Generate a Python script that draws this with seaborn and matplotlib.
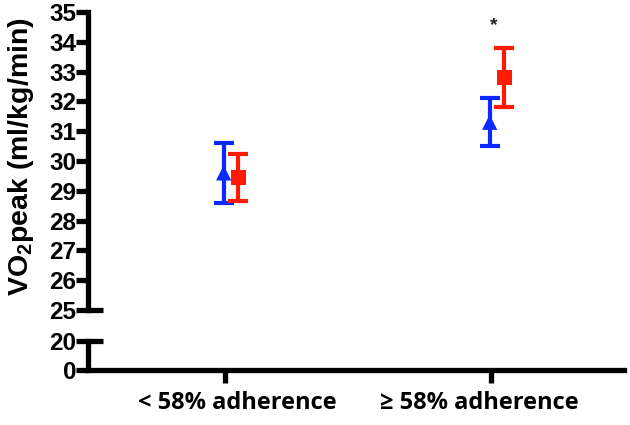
import numpy as np
import pandas as pd
import matplotlib
matplotlib.use("Agg")
import matplotlib.pyplot as plt
import matplotlib.transforms as mtransforms
import seaborn as sns

# ---- data ----
groups = ["< 58% adherence", "\u2265 58% adherence"]
series = ["A", "B"]
means_a = [29.6, 31.3]
low_a = [28.6, 30.5]
high_a = [30.6, 32.1]
means_b = [29.45, 32.8]
low_b = [28.65, 31.8]
high_b = [30.25, 33.8]
top_ticks = [25, 26, 27, 28, 29, 30, 31, 32, 33, 34, 35]
bottom_ticks = [0, 20]
ylabel = "VO$_2$peak (ml/kg/min)"
star_text = "*"

colors = {"A": "#0A28FF", "B": "#FF1A00"}
markers = {"A": "^", "B": "s"}
offsets = {"A": -0.005, "B": 0.05}

rows = []
for s, m, lo, hi in [("A", means_a, low_a, high_a), ("B", means_b, low_b, high_b)]:
    for i, g in enumerate(groups):
        rows.append(dict(group=g, gi=i, series=s, mean=m[i], low=lo[i], high=hi[i],
                         x=i + offsets[s]))
df = pd.DataFrame(rows)

sns.set_theme(style="ticks")
plt.rcParams["font.family"] = ["Liberation Sans", "DejaVu Sans"]
plt.rcParams["text.color"] = "black"
plt.rcParams["xtick.color"] = "black"
plt.rcParams["ytick.color"] = "black"
plt.rcParams["axes.edgecolor"] = "black"
plt.rcParams["mathtext.default"] = "regular"

fig = plt.figure(figsize=(6.3, 4.25), dpi=100)
W, H = 630, 425
left, right = 88 / W, 624 / W
ax_top = fig.add_axes([left, 1 - 310 / H, right - left, (310 - 12) / H])
ax_bot = fig.add_axes([left, 1 - 370 / H, right - left, (370 - 341) / H])

lw_spine = 3.8
for ax in (ax_top, ax_bot):
    for sp in ("top", "right"):
        ax.spines[sp].set_visible(False)
    ax.spines["left"].set_linewidth(lw_spine)
    ax.spines["bottom"].set_linewidth(lw_spine)
    ax.set_xlim(-0.515, 1.5)
    ax.tick_params(axis="y", length=8.5, width=lw_spine, labelsize=17.5, pad=0,
                   colors="black")
    ax.set_facecolor("white")

ax_top.spines["bottom"].set_visible(False)
ax_top.set_ylim(25, 35)
ax_top.set_yticks(top_ticks)
ax_top.set_yticklabels([str(t) for t in top_ticks], fontweight="bold", fontsize=17.5)
ax_top.set_xticks([])

ax_bot.set_ylim(0, 20)
ax_bot.set_yticks(bottom_ticks)
ax_bot.set_yticklabels([str(t) for t in bottom_ticks], fontweight="bold", fontsize=17.5)
ax_bot.set_xticks([0, 1])
ax_bot.set_xticklabels(groups, fontsize=17, fontweight="bold",
                       family=["Open Sans", "DejaVu Sans"])
ax_bot.tick_params(axis="x", length=9, width=lw_spine, pad=6, colors="black")
for lab, dx in zip(ax_bot.get_xticklabels(), [12, -12]):
    lab.set_transform(lab.get_transform() +
                      mtransforms.ScaledTranslation(dx / 100, 0, fig.dpi_scale_trans))

# error bars
for s in series:
    d = df[df.series == s]
    ax_top.errorbar(d.x, d["mean"], yerr=[d["mean"] - d.low, d.high - d["mean"]],
                    fmt="none", ecolor=colors[s], elinewidth=3, capsize=7,
                    capthick=3, zorder=2)

sns.scatterplot(data=df, x="x", y="mean", hue="series", style="series",
                palette=colors, markers=markers, s=120, edgecolor="none",
                ax=ax_top, legend=False, zorder=3)
ax_top.set_xlabel("")
ax_top.set_ylabel("")
ax_bot.set_xlabel("")
ax_bot.set_ylabel("")

# axis break caps
tr_top = mtransforms.blended_transform_factory(ax_top.transAxes, ax_top.transData)
ax_top.plot([0, 0.028], [25, 25], color="black", lw=lw_spine, transform=tr_top,
            clip_on=False, solid_capstyle="butt")
tr_bot = mtransforms.blended_transform_factory(ax_bot.transAxes, ax_bot.transData)
ax_bot.plot([0, 0.028], [20, 20], color="black", lw=lw_spine, transform=tr_bot,
            clip_on=False, solid_capstyle="butt")

# significance star
ax_top.text(1.01, 34.55, star_text, ha="center", va="center", fontsize=14,
            fontweight="bold", color="#222222")

fig.text(0.033, 1 - 157 / H, ylabel, rotation=90, ha="center", va="center",
         fontsize=20.5, fontweight="bold")

fig.savefig("out.png", dpi=100, facecolor="white")
